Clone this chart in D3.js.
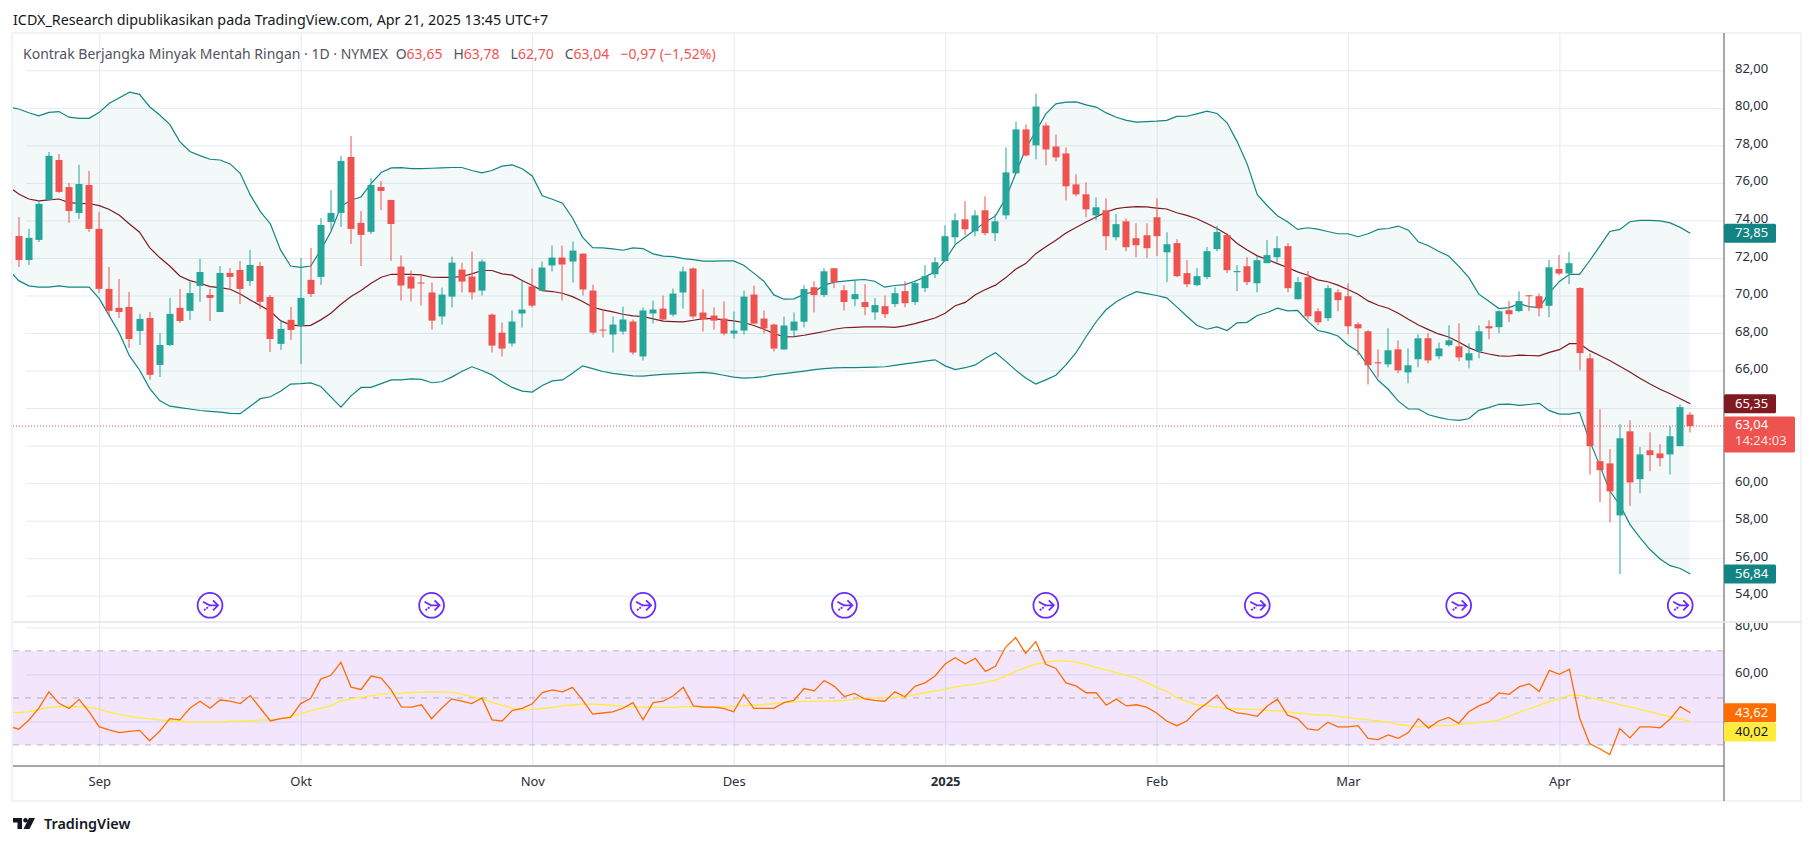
<!DOCTYPE html>
<html>
<head>
<meta charset="utf-8">
<style>
  html, body { margin: 0; background: #fff; }
  svg { display: block; font-family: "Noto Sans", sans-serif; }
  .axis path, .axis line { display: none; }
  .grid path { display: none; }
  .grid line { stroke: #e4ebf1; stroke-width: 1; }
</style>
<script src="https://cdn.jsdelivr.net/npm/d3@7"></script>
</head>
<body>
<div id="chart"></div>
<script>
// candles, index 0 to 166
let opens = [
  73.17,71.89,72.96,75.09,77.22,75.78,74.4,75.89,73.55,70.35,
  69.34,69.39,68.11,68.8,66.3,67.36,69.34,69.18,70.51,70.03,
  69.12,71.2,71.36,70.77,71.57,69.92,67.42,68.7,68.38,70.83,
  70.99,73.92,74.4,77.38,73.87,73.39,75.78,75.09,71.54,71.01,
  70.69,70.16,68.88,69.94,71.38,71.01,70.26,68.98,68.02,67.44,
  69.04,70.48,70.26,71.6,72.02,71.81,72.23,70.26,68.18,67.92,
  68.08,68.61,66.75,69.04,69.3,68.98,70.16,71.44,69.09,68.93,
  68.77,67.97,68.13,70.05,68.77,68.45,67.12,68.13,68.6,70.44,
  70.02,71.45,70.28,69.8,69.65,69.1,69.43,69.54,70.23,69.65,
  70.39,71.13,71.83,73.1,74.06,73.42,74.54,73.32,74.27,76.51,
  78.85,78.0,79.06,77.94,77.57,75.92,75.39,74.27,74.54,73.1,
  73.95,73.05,73.21,74.17,72.3,72.79,71.19,70.55,70.98,72.47,
  73.22,71.24,71.56,70.65,71.72,72.04,72.63,69.8,70.98,69.16,
  68.79,70.17,69.96,68.47,68.09,66.44,66.33,67.13,65.9,66.6,
  67.72,66.76,67.35,67.29,66.54,67.02,68.36,68.31,69.22,69.17,
  70.01,69.96,69.45,71.41,71.17,70.4,66.65,61.17,61.05,58.28,
  62.76,60.21,61.75,61.58,61.53,61.97,63.65];
let highs = [
  74.18,73.55,75.09,77.65,77.54,76.0,76.96,76.64,74.45,71.52,
  70.88,70.19,69.02,69.12,68.0,69.87,70.35,70.72,71.95,70.35,
  71.57,71.47,71.84,72.43,71.79,70.03,68.7,69.39,72.0,72.53,
  74.13,75.62,77.44,78.5,74.5,76.26,76.1,75.09,72.13,71.33,
  71.12,70.69,70.42,72.07,71.75,72.34,71.91,69.04,68.56,69.2,
  70.8,71.44,71.81,72.66,72.66,72.87,72.23,70.58,69.2,68.88,
  69.41,68.72,69.36,69.73,70.0,70.37,71.54,71.49,70.32,69.36,
  69.68,69.14,70.26,70.53,69.2,68.5,68.88,69.09,70.55,70.76,
  71.45,71.45,70.55,70.82,70.6,69.86,70.0,70.44,70.76,70.8,
  71.61,72.04,73.74,74.38,75.02,74.54,75.28,74.33,77.89,79.27,
  79.11,80.76,79.22,78.58,77.89,76.46,76.03,75.23,75.18,74.33,
  74.11,73.85,73.85,75.18,73.37,73.0,71.88,71.46,72.58,73.7,
  73.32,71.62,72.04,72.1,72.95,73.16,72.79,70.98,71.3,69.32,
  70.55,70.33,70.65,68.57,68.15,67.13,68.25,67.61,67.18,67.93,
  67.99,67.5,68.41,68.52,67.45,68.41,68.68,69.2,69.7,70.22,
  70.01,70.11,71.89,72.15,72.31,70.44,66.91,63.94,61.81,63.14,
  63.35,61.92,62.71,62.08,63.04,64.19,63.78];
let lows = [
  71.52,71.63,72.85,75.09,75.46,73.87,74.08,73.39,70.13,68.91,
  68.8,67.2,67.36,65.5,65.66,67.31,68.54,68.7,69.66,68.64,
  69.12,70.38,69.55,70.51,69.28,66.99,67.1,67.63,66.35,69.92,
  70.56,73.49,73.65,72.75,71.57,73.28,74.56,71.84,69.73,69.68,
  69.46,68.18,68.45,69.36,70.16,69.78,70.0,66.96,66.75,67.28,
  68.29,69.36,70.26,71.28,69.73,70.69,70.0,67.92,67.76,66.96,
  67.92,66.85,66.53,68.5,68.66,68.88,69.3,68.77,68.08,68.18,
  67.87,67.7,67.92,68.5,67.97,67.01,67.12,67.76,68.3,69.1,
  69.91,70.39,69.2,69.43,68.95,68.7,68.8,69.38,69.38,69.49,
  70.18,70.92,71.83,72.73,73.21,73.16,73.21,72.89,74.06,76.51,
  77.41,77.25,76.93,77.15,75.07,75.28,74.17,74.01,72.41,72.94,
  72.36,72.04,71.99,72.11,70.71,70.98,70.44,70.49,70.87,72.36,
  71.19,70.23,70.55,70.17,71.72,71.78,70.17,69.8,68.73,68.41,
  68.63,69.16,67.93,66.81,65.26,65.64,66.17,65.85,65.32,66.17,
  66.38,66.6,67.29,66.49,66.12,66.65,67.67,67.99,68.58,69.11,
  69.17,68.89,68.84,71.08,70.6,66.01,60.46,58.98,57.91,55.16,
  58.79,59.45,60.63,60.89,60.46,61.97,62.7];
let closes = [
  71.89,73.07,74.88,77.44,75.52,74.5,75.94,73.55,70.35,69.18,
  69.12,67.68,68.75,65.77,67.36,69.02,68.64,70.13,71.25,69.87,
  71.2,70.99,70.35,71.63,69.66,67.68,68.22,68.16,69.87,70.08,
  73.76,74.4,77.17,73.55,73.23,75.89,75.57,73.81,70.53,70.37,
  70.64,68.66,70.05,71.75,70.74,70.16,71.81,67.33,67.17,68.61,
  69.25,69.46,71.49,72.02,71.65,72.39,70.32,68.02,68.13,68.45,
  68.72,66.96,69.2,69.25,68.72,70.1,71.28,68.88,68.72,68.66,
  67.97,68.13,69.94,68.5,68.24,67.17,68.4,68.61,70.34,70.02,
  71.29,70.71,69.65,70.07,69.38,69.49,69.0,70.12,69.59,70.66,
  71.03,71.77,73.16,74.01,73.53,74.27,73.32,73.95,76.56,78.85,
  77.46,80.07,77.78,77.36,75.82,75.39,74.59,74.7,73.16,73.8,
  72.57,72.68,72.52,73.16,72.73,71.03,70.6,71.03,72.36,73.38,
  71.35,71.3,70.71,71.88,72.15,72.52,70.39,70.71,68.89,68.57,
  70.39,69.75,68.36,68.25,66.28,66.38,67.08,66.01,66.28,67.72,
  66.54,67.18,67.61,66.7,66.92,68.09,68.25,69.16,69.0,69.7,
  69.96,69.32,71.5,71.17,71.72,66.93,61.97,60.69,59.56,62.39,
  60.04,61.53,61.49,61.33,62.5,64.05,63.04];

// indicator series start one bar earlier, index -1 to 166
let bbUpper = [80.05,
  79.94,79.74,79.57,79.76,79.8,79.5,79.44,79.44,79.76,80.24,
  80.54,80.83,80.72,80.06,79.62,79.12,78.2,77.67,77.45,77.26,
  77.22,77.01,76.51,75.36,74.47,73.81,72.43,71.57,71.5,71.57,
  72.43,73.4,74.74,75.09,75.25,75.98,76.55,76.8,76.81,76.76,
  76.76,76.78,76.8,76.82,76.82,76.66,76.53,76.66,76.89,76.96,
  76.75,76.37,75.31,75.13,74.92,74.13,73.1,72.55,72.54,72.48,
  72.41,72.54,72.5,72.22,72.1,72.07,71.96,71.91,71.83,71.83,
  71.84,71.84,71.61,71.19,70.76,70.03,69.8,69.82,70.07,70.2,
  70.55,70.71,70.76,70.82,70.85,70.76,70.44,70.53,70.58,70.76,
  70.99,71.26,71.88,72.71,73.12,73.51,73.92,74.24,75.16,76.49,
  77.82,78.74,79.68,80.21,80.3,80.32,80.16,80.04,79.73,79.5,
  79.33,79.24,79.27,79.29,79.33,79.54,79.55,79.68,79.82,79.7,
  79.2,78.2,77.0,75.37,74.78,74.25,73.93,73.52,73.61,73.54,
  73.41,73.29,73.29,73.13,73.29,73.52,73.57,73.7,73.48,72.86,
  72.65,72.36,72.1,71.56,70.96,70.07,69.69,69.3,69.35,69.56,
  69.41,69.35,70.14,70.75,71.13,71.12,71.85,72.62,73.41,73.52,
  73.93,74.0,74.0,73.98,73.87,73.63,73.32];
let bbBasis = [75.8,
  75.41,75.14,75.04,75.09,75.14,74.95,74.91,74.9,74.79,74.58,
  74.27,73.81,73.37,72.55,72.02,71.57,71.04,70.79,70.65,70.47,
  70.42,70.33,70.08,69.76,69.46,69.14,68.66,68.43,68.38,68.41,
  68.7,69.05,69.53,69.94,70.26,70.65,70.97,71.13,71.12,71.12,
  71.1,70.97,70.96,70.96,71.01,71.15,71.33,71.33,71.15,71.08,
  70.8,70.53,70.26,70.21,70.12,69.94,69.68,69.37,69.23,69.13,
  69.0,68.91,68.88,68.75,68.63,68.61,68.59,68.68,68.77,68.77,
  68.7,68.65,68.56,68.4,68.2,67.97,67.79,67.81,67.88,67.98,
  68.08,68.2,68.28,68.3,68.33,68.33,68.33,68.3,68.38,68.5,
  68.65,68.8,69.05,69.45,69.63,70.04,70.32,70.55,70.94,71.4,
  71.7,72.23,72.59,72.94,73.33,73.62,73.92,74.18,74.45,74.63,
  74.7,74.73,74.72,74.66,74.61,74.41,74.27,74.09,73.84,73.57,
  73.25,72.77,72.42,72.11,71.92,71.7,71.49,71.26,71.08,70.83,
  70.73,70.55,70.32,70.07,69.71,69.48,69.32,69.05,68.73,68.43,
  68.18,67.95,67.79,67.52,67.22,67.0,66.88,66.78,66.76,66.82,
  66.8,66.78,66.97,67.11,67.43,67.43,67.06,66.8,66.53,66.23,
  65.92,65.59,65.28,65.0,64.76,64.5,64.23];
let bbLower = [71.36,
  70.79,70.51,70.45,70.45,70.51,70.45,70.44,70.44,69.83,68.91,
  67.99,66.78,66.03,65.05,64.4,64.1,64.02,63.95,63.87,63.82,
  63.78,63.72,63.7,64.1,64.5,64.6,64.9,65.28,65.3,65.34,
  65.15,64.6,64.05,64.65,65.1,65.1,65.3,65.5,65.5,65.55,
  65.53,65.35,65.4,65.65,65.95,66.2,66.0,65.77,65.4,65.1,
  64.9,64.85,65.2,65.45,65.5,65.85,66.25,66.1,65.95,65.85,
  65.78,65.72,65.7,65.75,65.8,65.82,65.85,65.87,65.9,65.85,
  65.75,65.65,65.6,65.62,65.68,65.78,65.84,65.9,65.97,66.05,
  66.1,66.14,66.15,66.16,66.17,66.18,66.2,66.27,66.35,66.42,
  66.5,66.57,66.25,66.05,66.15,66.3,66.65,66.95,66.5,66.02,
  65.6,65.28,65.5,65.75,66.3,66.95,67.8,68.6,69.25,69.66,
  69.96,70.2,70.1,70.0,69.87,69.39,68.89,68.41,68.2,68.32,
  68.13,68.54,68.57,68.93,69.09,69.32,69.18,69.2,68.63,68.13,
  68.02,67.84,67.36,67.02,66.24,65.48,65.0,64.37,63.95,63.95,
  63.64,63.5,63.39,63.34,63.43,63.88,64.02,64.2,64.21,64.14,
  64.19,64.25,63.86,63.68,63.68,63.77,62.25,60.96,59.58,58.85,
  57.8,57.1,56.46,55.96,55.6,55.45,55.16];
let rsiValues = [38,
  36.7,40.5,45.7,52.6,47.7,45.5,49.4,44.1,37.7,36.4,
  35.3,35.8,36.2,31.8,35.8,41.2,40.7,45.6,48.6,45.6,
  49.1,48.6,47.6,51,45.6,40.2,41.2,41.7,47.6,49.8,
  58,59.6,65.1,54.6,53.6,59.3,58.4,53.3,46.2,46.1,
  47.1,41.2,45.6,49.6,48.6,47.6,50,40.7,40.2,44.6,
  45.6,47.5,52.3,53.4,52.6,54.5,49.1,43.1,43.6,44.1,
  45.6,48,40.7,48,48.6,50.9,54.5,46.6,46.1,46.1,
  45.6,44.1,51.5,45.6,45.6,45.6,48,49,54,53,
  57.4,54.9,50.6,51.9,49.6,49,48.6,52.6,50.5,54.9,
  56.4,59.3,64.4,67.1,64.5,66.8,61.3,63.4,71.5,75.7,
  68.9,73.9,64.3,62.5,56.4,55.1,52.2,52.2,46.9,49.5,
  46.6,47.1,46.1,43.6,40.2,38.2,40.2,44.6,47.7,51.2,
  45.6,43.6,43.1,42.2,46.6,49.5,42.7,41.2,36.8,36.3,
  39.7,37.7,37.7,38.2,32.8,32.3,34.3,32.8,35.3,41.2,
  37.2,40.2,41.7,39.2,44.1,46.6,48.3,52.1,51.5,54.7,
  56,52.7,61.7,60,62.2,41.6,30.6,28.4,25.9,37,
  33,37.7,37.7,37.3,41,46.3,43.7];
let rsiMa = [43.7,
  43.8,44.1,45,46,46.3,46.4,46.3,46,45.2,44,
  42.9,42.2,41.5,41.2,40.7,40.2,40.2,39.7,39.7,39.7,
  39.7,40,40.2,40.2,40.7,40.7,41.2,42.2,43.2,44.6,
  45.6,46.6,48.7,49.6,50.2,50.9,51.6,51.8,52,52.3,
  52.5,52.6,52.5,52.5,51.6,50.5,49.6,48.2,46.8,45.7,
  44.9,45,45.5,46,46.6,47,47.4,47.4,47.1,46.8,
  46.5,46.3,46,46,46,46,46.3,46.3,46.2,46.2,
  46.3,46.5,46.7,47,47.2,47.6,48,48.3,48.5,48.5,
  48.6,48.7,49,49.4,49.9,50,50,50.2,50.5,51.4,
  52.2,53,53.7,54.7,55.2,55.9,56.7,57.6,59.3,61.3,
  62.9,64.4,65.2,65.7,65.7,65.2,64.2,63,61.9,60.7,
  59.6,58.4,56.5,54.5,52.9,50,48.5,47.1,46.6,46.1,
  45.6,45.4,45.1,45.1,44.6,44.6,44.1,43.6,43.2,42.7,
  42.7,42.2,41.7,41.2,40.7,40.2,39.7,38.7,38.2,37.7,
  38.2,38.2,38.2,38.7,39.2,39.5,40,40.6,42.2,43.9,
  45.4,46.8,48.5,49.6,51.1,51.2,50.2,49.2,48.2,47.2,
  46.2,45.2,44.1,43.1,42,41,40];

let priceTicks = [54,56,58,60,62,64,66,68,70,72,74,76,78,80,82];
let rsiTicks = [40,60,80];
let rsiBands = [30,50,70];
let monthBars = [8,28,51,71,92,113,132,153];
let monthNames = ['Sep','Okt','Nov','Des','2025','Feb','Mar','Apr'];
let eventBars = [19,41,62,82,102,123,143,165];

let width = 1814;
let height = 846;
let left = 13;
let right = 1724;
let frameRight = 1801;
let frameTop = 33;
let frameBottom = 801;
let paneSplit = 622;
let timeTop = 766;
let bodyWidth = 7;

const comma = d => d.toFixed(2).replace('.', ',');
const up = '#26a69a', down = '#ef5350', teal = '#138484', maroon = '#801922';

let x = d3.scaleLinear().domain([0, 166]).range([18.7, 1690.3]);
let y = d3.scaleLinear().domain([54, 82]).range([595.7, 70.3]);
let yRsi = d3.scaleLinear().domain([30, 80]).range([745, 627.3]);

let svg = d3.select('#chart').append('svg').attr('width', width).attr('height', height);
let defs = svg.append('defs');
defs.append('clipPath').attr('id', 'pricePane').append('rect')
    .attr('x', left).attr('y', frameTop).attr('width', right - left).attr('height', paneSplit - frameTop);
defs.append('clipPath').attr('id', 'rsiPane').append('rect')
    .attr('x', left).attr('y', paneSplit).attr('width', right - left).attr('height', timeTop - paneSplit);
defs.append('clipPath').attr('id', 'rsiLabels').append('rect')
    .attr('x', right).attr('y', paneSplit + 1).attr('width', frameRight - right).attr('height', timeTop - paneSplit);

svg.append('text').attr('x', 13).attr('y', 25).attr('font-size', 14.3).attr('fill', '#131722')
   .text('ICDX_Research dipublikasikan pada TradingView.com, Apr 21, 2025 13:45 UTC+7');

// frame
svg.append('rect').attr('x', 12).attr('y', frameTop).attr('width', frameRight - 12).attr('height', frameBottom - frameTop)
   .attr('fill', 'none').attr('stroke', '#f0f3fa').attr('stroke-width', 2);

// grid
svg.append('g').attr('class', 'grid').attr('clip-path', 'url(#pricePane)')
   .attr('transform', `translate(${left},0)`)
   .call(d3.axisRight(y).tickValues(priceTicks).tickSize(right - left).tickFormat(''));
svg.append('g').attr('class', 'grid').attr('clip-path', 'url(#rsiPane)')
   .attr('transform', `translate(${left},0)`)
   .call(d3.axisRight(yRsi).tickValues(rsiTicks).tickSize(right - left).tickFormat(''));
svg.append('g').attr('class', 'grid')
   .attr('transform', `translate(0,${frameTop})`)
   .call(d3.axisBottom(x).tickValues(monthBars).tickSize(timeTop - frameTop).tickFormat(''));

// rsi band
let rsiPane = svg.append('g').attr('clip-path', 'url(#rsiPane)');
rsiPane.append('rect').attr('x', left).attr('width', right - left)
   .attr('y', yRsi(70)).attr('height', yRsi(30) - yRsi(70))
   .attr('fill', '#8700e1').attr('fill-opacity', 0.1);
rsiPane.selectAll('line.band').data(rsiBands).enter().append('line').attr('class', 'band')
   .attr('x1', left).attr('x2', right).attr('y1', d => yRsi(d)).attr('y2', d => yRsi(d))
   .attr('stroke', '#787b86').attr('stroke-opacity', 0.5).attr('stroke-dasharray', '6 6');
let rsiLine = d3.line().x((d, i) => x(i - 1)).y(d => yRsi(d));
rsiPane.append('path').attr('d', rsiLine(rsiMa)).attr('fill', 'none').attr('stroke', '#ffeb3b').attr('stroke-width', 1.3);
rsiPane.append('path').attr('d', rsiLine(rsiValues)).attr('fill', 'none').attr('stroke', '#ff6d00').attr('stroke-width', 1.3);

// bollinger bands
let pane = svg.append('g').attr('clip-path', 'url(#pricePane)');
let bbArea = d3.area().x((d, i) => x(i - 1)).y0((d, i) => y(bbLower[i])).y1(d => y(d));
let bbLine = d3.line().x((d, i) => x(i - 1)).y(d => y(d));
pane.append('path').attr('d', bbArea(bbUpper)).attr('fill', teal).attr('fill-opacity', 0.05);
pane.append('path').attr('d', bbLine(bbUpper)).attr('fill', 'none').attr('stroke', teal).attr('stroke-width', 1.2);
pane.append('path').attr('d', bbLine(bbLower)).attr('fill', 'none').attr('stroke', teal).attr('stroke-width', 1.2);
pane.append('path').attr('d', bbLine(bbBasis)).attr('fill', 'none').attr('stroke', maroon).attr('stroke-width', 1.2);

// candles
let bars = pane.selectAll('g.bar').data(closes).enter().append('g').attr('class', 'bar')
   .attr('fill', (d, i) => d >= opens[i] ? up : down);
bars.append('rect').attr('x', (d, i) => Math.round(x(i)) - 0.5).attr('width', 1)
   .attr('y', (d, i) => y(highs[i])).attr('height', (d, i) => y(lows[i]) - y(highs[i]));
bars.append('rect').attr('x', (d, i) => Math.round(x(i)) - 3.5).attr('width', bodyWidth)
   .attr('y', (d, i) => y(Math.max(opens[i], d)))
   .attr('height', (d, i) => Math.max(1, Math.abs(y(opens[i]) - y(d))));

// last price line
let lastClose = closes[closes.length - 1];
pane.append('line').attr('x1', left).attr('x2', right).attr('y1', y(lastClose)).attr('y2', y(lastClose))
   .attr('stroke', down).attr('stroke-dasharray', '1 2');

// event marks
let mark = pane.selectAll('g.mark').data(eventBars).enter().append('g').attr('class', 'mark')
   .attr('transform', d => `translate(${x(d)},605.3)`)
   .attr('fill', 'none').attr('stroke', '#6a2cff').attr('stroke-width', 1.8);
mark.append('circle').attr('r', 12.4).attr('fill', '#fff');
mark.append('path').attr('d', 'M-7 -3.5 Q-3 -1 0 0 H8 M3 -5 L8 0 L3 5');
mark.append('path').attr('d', 'M-6 5 L-1 1').attr('stroke-dasharray', '2 1');

// axes
svg.append('line').attr('x1', right).attr('x2', right).attr('y1', frameTop).attr('y2', frameBottom)
   .attr('stroke', '#50535e');
svg.append('line').attr('x1', left).attr('x2', right).attr('y1', timeTop).attr('y2', timeTop)
   .attr('stroke', '#50535e');
svg.append('line').attr('x1', left).attr('x2', frameRight).attr('y1', paneSplit).attr('y2', paneSplit)
   .attr('stroke', '#e0e3eb').attr('stroke-width', 1.5);

const axisText = g => g.selectAll('text').attr('font-size', 13).attr('font-family', 'Noto Sans').attr('fill', '#2a2e39');
svg.append('g').attr('class', 'axis').attr('transform', `translate(${right},0)`)
   .call(d3.axisRight(y).tickValues(priceTicks).tickSize(0).tickPadding(11).tickFormat(comma))
   .call(axisText)
   .call(g => g.selectAll('text').attr('dy', '0.16em'));
svg.append('g').attr('clip-path', 'url(#rsiLabels)')
   .append('g').attr('class', 'axis').attr('transform', `translate(${right},0)`)
   .call(d3.axisRight(yRsi).tickValues(rsiTicks.slice(1)).tickSize(0).tickPadding(11).tickFormat(comma))
   .call(axisText)
   .call(g => g.selectAll('text').attr('dy', '0.16em'));
svg.append('g').attr('class', 'axis').attr('transform', `translate(0,${timeTop})`)
   .call(d3.axisBottom(x).tickValues(monthBars).tickSize(0).tickPadding(11)
       .tickFormat((d, i) => monthNames[i]))
   .call(axisText)
   .call(g => g.selectAll('text').attr('font-weight', (d, i) => monthNames[i] === '2025' ? 700 : 400));

// last value labels
let lastLabels = [
  {text: '73,85', cy: y(bbUpper[167]), fill: teal, color: '#fff'},
  {text: '56,84', cy: y(bbLower[167]), fill: teal, color: '#fff'},
  {text: '65,35', cy: y(bbBasis[167]), fill: maroon, color: '#fff'},
  {text: '43,62', cy: yRsi(rsiValues[167]), fill: '#ff6d00', color: '#fff'},
  {text: '40,02', cy: yRsi(rsiMa[167]) + 10.5, fill: '#ffeb3b', color: '#131722'}
];
let lastG = svg.selectAll('g.last').data(lastLabels).enter().append('g').attr('class', 'last')
   .attr('transform', d => `translate(${right},${d.cy})`);
lastG.append('rect').attr('y', -9.5).attr('width', 52).attr('height', 19).attr('rx', 1.5).attr('fill', d => d.fill);
lastG.append('text').attr('x', 11).attr('dy', '0.3em').attr('font-size', 13)
   .attr('fill', d => d.color).text(d => d.text);

let closeG = svg.append('g').attr('transform', `translate(${right},${y(lastClose)})`);
closeG.append('rect').attr('y', -9.5).attr('width', 71).attr('height', 36).attr('rx', 1.5).attr('fill', down);
closeG.append('text').attr('x', 11).attr('y', -1).attr('dy', '0.3em').attr('font-size', 13).attr('fill', '#fff').text(comma(lastClose));
closeG.append('text').attr('x', 11).attr('y', 15.5).attr('dy', '0.3em').attr('font-size', 13).attr('fill', '#fff').attr('fill-opacity', 0.85).text('14:24:03');

// legend
let legend = svg.append('text').attr('x', 23).attr('y', 59).attr('font-size', 14).attr('fill', '#50535e');
legend.append('tspan').text('Kontrak Berjangka Minyak Mentah Ringan · 1D · NYMEX');
[['O','63,65'],['H','63,78'],['L','62,70'],['C','63,04']].forEach((p, i) => {
  legend.append('tspan').attr('dx', i === 0 ? 8 : 11).text(p[0]);
  legend.append('tspan').attr('fill', down).text(p[1]);
});
legend.append('tspan').attr('dx', 11).attr('fill', down).text('−0,97 (−1,52%)');

// logo
let logo = svg.append('g').attr('transform', 'translate(13,818)').attr('fill', '#131722');
logo.append('path').attr('d', 'M0 0H9V11H4.5V4.5H0Z');
logo.append('circle').attr('cx', 12.5).attr('cy', 2.3).attr('r', 2.3);
logo.append('path').attr('d', 'M16 0H22L16.5 11H10.5Z');
svg.append('text').attr('x', 44).attr('y', 829).attr('font-size', 14.4).attr('font-weight', 600)
   .attr('fill', '#131722').text('TradingView');
</script>
</body>
</html>
